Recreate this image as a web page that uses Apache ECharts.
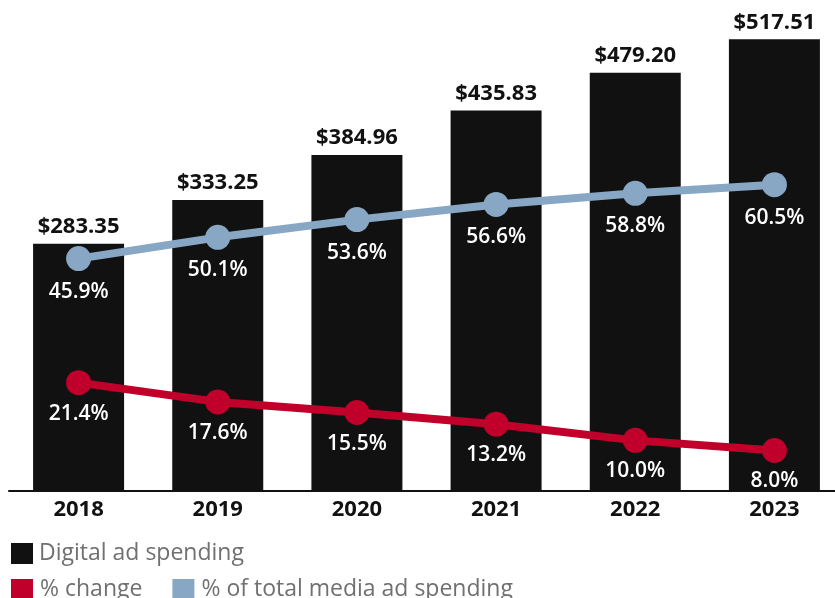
<!DOCTYPE html>
<html>
<head>
<meta charset="utf-8">
<script src="https://cdn.jsdelivr.net/npm/echarts@6/dist/echarts.min.js"></script>
<style>
html,body{margin:0;padding:0;background:#fff;}
#chart{width:835px;height:598px;}
</style>
</head>
<body>
<div id="chart"></div>
<script>
const categories = ['2018', '2019', '2020', '2021', '2022', '2023'];
const digitalAdSpending = [283.35, 333.25, 384.96, 435.83, 479.20, 517.51];
const pctChange = [21.4, 17.6, 15.5, 13.2, 10.0, 8.0];
const pctOfTotal = [45.9, 50.1, 53.6, 56.6, 58.8, 60.5];

const FONT = '"Open Sans", Lato, sans-serif';
const BAR_COLOR = '#111111';
const RED = '#c0002a';
const BLUE = '#87a7c5';

const chart = echarts.init(document.getElementById('chart'));
chart.setOption({
  animation: false,
  backgroundColor: '#ffffff',
  textStyle: { fontFamily: FONT },
  grid: { left: 9, right: -9, top: 10, bottom: 107, containLabel: false, outerBoundsMode: 'none' },
  legend: [
    {
      data: ['Digital ad spending'],
      left: 11, top: 542, padding: 0,
      icon: 'rect', itemWidth: 22, itemHeight: 21,
      textStyle: { color: '#707070', fontSize: 23, fontFamily: FONT, padding: [0, 0, 0, 1] }
    },
    {
      data: ['% change', '% of total media ad spending'],
      left: 11, top: 578, padding: 0,
      icon: 'rect', itemWidth: 22, itemHeight: 21, itemGap: 30,
      textStyle: { color: '#707070', fontSize: 23, fontFamily: FONT, padding: [0, 0, 0, 2] }
    }
  ],
  xAxis: {
    type: 'category',
    data: categories,
    axisLine: { lineStyle: { color: '#111', width: 2 } },
    axisTick: { show: false },
    axisLabel: { color: '#111', fontSize: 22, fontWeight: 'bold', fontFamily: FONT, margin: 8 }
  },
  yAxis: [
    { type: 'value', min: 0, max: 551, show: false, splitLine: { show: false } },
    { type: 'value', min: 0, max: 95, show: false, splitLine: { show: false } }
  ],
  series: [
    {
      name: 'Digital ad spending',
      type: 'bar',
      data: digitalAdSpending,
      barWidth: 91,
      itemStyle: { color: BAR_COLOR },
      label: {
        show: true, position: 'top', distance: 6,
        color: '#111', fontSize: 22, fontWeight: 'bold', fontFamily: FONT,
        formatter: p => '$' + p.value.toFixed(2)
      }
    },
    {
      name: '% change',
      type: 'line',
      yAxisIndex: 1,
      data: pctChange,
      symbol: 'circle', symbolSize: 25,
      lineStyle: { color: RED, width: 8 },
      itemStyle: { color: RED },
      label: {
        show: true, position: 'bottom', distance: 8,
        color: '#fff', fontSize: 21, fontWeight: 600, fontFamily: FONT,
        formatter: p => p.value.toFixed(1) + '%'
      }
    },
    {
      name: '% of total media ad spending',
      type: 'line',
      yAxisIndex: 1,
      data: pctOfTotal,
      symbol: 'circle', symbolSize: 25,
      lineStyle: { color: BLUE, width: 8 },
      itemStyle: { color: BLUE },
      label: {
        show: true, position: 'bottom', distance: 10,
        color: '#fff', fontSize: 21, fontWeight: 600, fontFamily: FONT,
        formatter: p => p.value.toFixed(1) + '%'
      }
    }
  ]
});
</script>
</body>
</html>
